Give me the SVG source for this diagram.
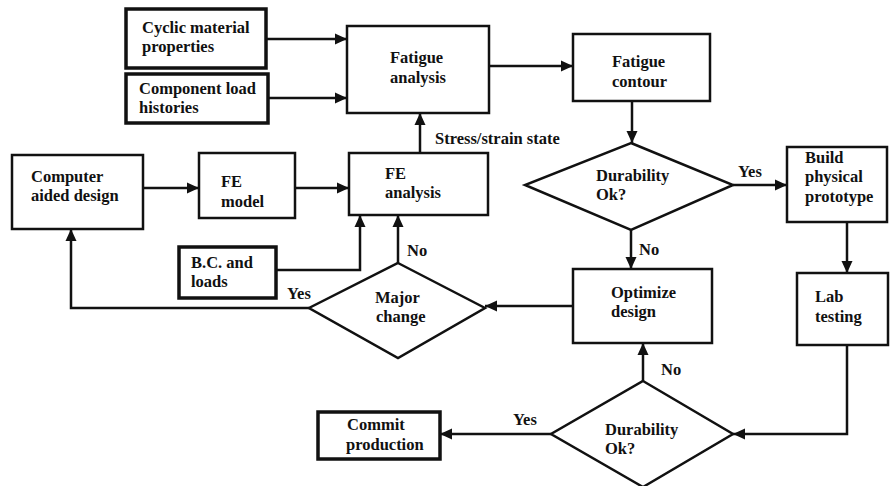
<svg xmlns="http://www.w3.org/2000/svg" width="891" height="486" viewBox="0 0 891 486">
<style>
.box{fill:#fff;stroke:#111;stroke-width:2.5}
.thick{stroke-width:3.5}
.dia{fill:#fff;stroke:#111;stroke-width:2.5}
.t{font-family:'Liberation Serif','Times New Roman',Times,serif;font-size:16.5px;font-weight:bold;fill:#111}
.c{fill:none;stroke:#111;stroke-width:2.5}
</style>
<defs>
<marker id="ah" markerUnits="userSpaceOnUse" markerWidth="12" markerHeight="12" viewBox="0 0 12 12" refX="12" refY="6" orient="auto">
<path d="M0,0.5 L12,6 L0,11.5 Z" fill="#111"/>
</marker>
</defs>
<rect width="891" height="486" fill="#fff"/>
<g id="connectors">
<path class="c" d="M266,39 H347" marker-end="url(#ah)"/>
<path class="c" d="M268,98 H347" marker-end="url(#ah)"/>
<path class="c" d="M489,66 H573" marker-end="url(#ah)"/>
<path class="c" d="M632,101 V143" marker-end="url(#ah)"/>
<path class="c" d="M733,185 H787" marker-end="url(#ah)"/>
<path class="c" d="M631,230 V269" marker-end="url(#ah)"/>
<path class="c" d="M847,222 V273" marker-end="url(#ah)"/>
<path class="c" d="M847,345 V434 H733" marker-end="url(#ah)"/>
<path class="c" d="M643,381 V343" marker-end="url(#ah)"/>
<path class="c" d="M551,434 H440" marker-end="url(#ah)"/>
<path class="c" d="M573,306 H485" marker-end="url(#ah)"/>
<path class="c" d="M398,263 V215" marker-end="url(#ah)"/>
<path class="c" d="M276,270 H360 V215" marker-end="url(#ah)"/>
<path class="c" d="M309,308 H71 V229" marker-end="url(#ah)"/>
<path class="c" d="M143,188 H199" marker-end="url(#ah)"/>
<path class="c" d="M295,188 H349" marker-end="url(#ah)"/>
<path class="c" d="M420,153 V113" marker-end="url(#ah)"/>
<text class="t" x="435" y="144">Stress/strain state</text>
<text class="t" x="738" y="177">Yes</text>
<text class="t" x="639" y="255">No</text>
<text class="t" x="407" y="256">No</text>
<text class="t" x="287" y="299">Yes</text>
<text class="t" x="661" y="375">No</text>
<text class="t" x="513" y="425">Yes</text>
</g>
<g id="cyclic"><rect class="box thick" x="126" y="9" width="140" height="59"/><text class="t" x="142" y="33">Cyclic material</text><text class="t" x="142" y="52">properties</text></g>
<g id="component"><rect class="box thick" x="126" y="74" width="142" height="49"/><text class="t" x="139" y="94">Component load</text><text class="t" x="139" y="113">histories</text></g>
<g id="fatigue-analysis"><rect class="box" x="347" y="26" width="142" height="87"/><text class="t" x="390" y="63">Fatigue</text><text class="t" x="390" y="83">analysis</text></g>
<g id="fatigue-contour"><rect class="box" x="573" y="34" width="137" height="67"/><text class="t" x="612" y="67">Fatigue</text><text class="t" x="612" y="87">contour</text></g>
<g id="durability1"><polygon class="dia" points="631,143 733,185 631,230 525,185"/><text class="t" x="596" y="181">Durability</text><text class="t" x="596" y="200">Ok?</text></g>
<g id="build"><rect class="box" x="787" y="147" width="100" height="75"/><text class="t" x="805" y="163">Build</text><text class="t" x="805" y="182">physical</text><text class="t" x="805" y="202">prototype</text></g>
<g id="cad"><rect class="box" x="12" y="155" width="131" height="74"/><text class="t" x="31" y="182">Computer</text><text class="t" x="31" y="201">aided design</text></g>
<g id="fe-model"><rect class="box" x="199" y="153" width="96" height="65"/><text class="t" x="221" y="187">FE</text><text class="t" x="221" y="207">model</text></g>
<g id="fe-analysis"><rect class="box" x="349" y="153" width="139" height="62"/><text class="t" x="385" y="179">FE</text><text class="t" x="385" y="198">analysis</text></g>
<g id="bc"><rect class="box thick" x="179" y="247" width="97" height="51"/><text class="t" x="191" y="268">B.C. and</text><text class="t" x="191" y="287">loads</text></g>
<g id="major-change"><polygon class="dia" points="398,263 485,308 398,358 309,308"/><text class="t" x="375" y="303">Major</text><text class="t" x="376" y="322">change</text></g>
<g id="optimize"><rect class="box" x="573" y="269" width="139" height="74"/><text class="t" x="611" y="298">Optimize</text><text class="t" x="611" y="317">design</text></g>
<g id="lab"><rect class="box" x="797" y="273" width="91" height="72"/><text class="t" x="815" y="302">Lab</text><text class="t" x="815" y="322">testing</text></g>
<g id="durability2"><polygon class="dia" points="643,381 733,434 643,487 551,434"/><text class="t" x="605" y="435">Durability</text><text class="t" x="605" y="454">Ok?</text></g>
<g id="commit"><rect class="box thick" x="318" y="412" width="122" height="47"/><text class="t" x="347" y="430">Commit</text><text class="t" x="346" y="450">production</text></g>
</svg>
